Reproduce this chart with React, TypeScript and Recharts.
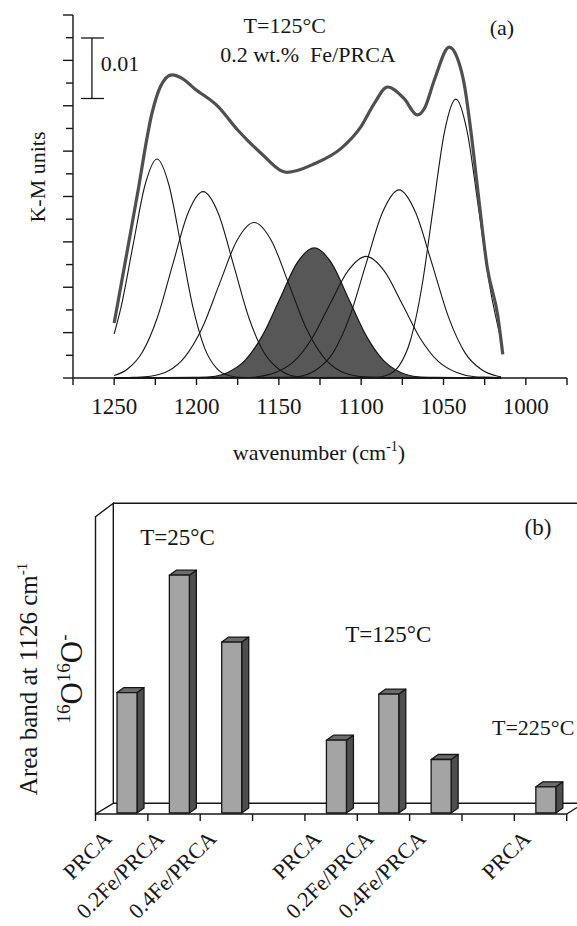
import React from 'react';
import { ComposedChart, Line, Area, XAxis, YAxis, ReferenceLine, BarChart, Bar } from 'recharts';

const FONT = '"Liberation Serif", "Times New Roman", serif';
const INK = '#161616';

// (a) experimental / fitted envelope, K-M units against wavenumber (cm-1)
const envelope = [
  { w: 1250, v: 0.0091 }, { w: 1242, v: 0.0211 }, { w: 1236, v: 0.0302 }, { w: 1227, v: 0.0438 },
  { w: 1222, v: 0.0481 }, { w: 1215, v: 0.0501 }, { w: 1207.5, v: 0.0493 }, { w: 1201.5, v: 0.0479 },
  { w: 1187, v: 0.0449 }, { w: 1175, v: 0.041 }, { w: 1161, v: 0.0372 }, { w: 1145, v: 0.034 },
  { w: 1128.5, v: 0.0354 }, { w: 1112, v: 0.038 }, { w: 1100, v: 0.0416 }, { w: 1092, v: 0.0454 },
  { w: 1084, v: 0.0481 }, { w: 1074, v: 0.0462 }, { w: 1066, v: 0.0435 }, { w: 1061.5, v: 0.0446 },
  { w: 1055.5, v: 0.0493 }, { w: 1046.5, v: 0.0547 }, { w: 1041.5, v: 0.0528 }, { w: 1037.5, v: 0.0487 },
  { w: 1033, v: 0.04 }, { w: 1029, v: 0.0306 }, { w: 1023.5, v: 0.0184 }, { w: 1017, v: 0.0102 },
  { w: 1014, v: 0.0039 },
];

// fitted components
const band1224 = [
  { w: 1250, v: 0.0073 }, { w: 1245.75, v: 0.0118 }, { w: 1238.5, v: 0.022 }, { w: 1231.25, v: 0.0319 },
  { w: 1224, v: 0.0362 }, { w: 1216.75, v: 0.0319 }, { w: 1209.5, v: 0.022 }, { w: 1202.25, v: 0.0118 },
  { w: 1195, v: 0.0049 }, { w: 1187.75, v: 0.0016 }, { w: 1180.5, v: 0.0004 }, { w: 1173.25, v: 0.0001 },
  { w: 1160, v: 0 }, { w: 1015, v: 0 },
];
const band1196 = [
  { w: 1250, v: 0.0004 }, { w: 1242.25, v: 0.0014 }, { w: 1233, v: 0.0042 }, { w: 1223.75, v: 0.01 },
  { w: 1214.5, v: 0.0187 }, { w: 1205.25, v: 0.0272 }, { w: 1196, v: 0.0308 }, { w: 1186.75, v: 0.0272 },
  { w: 1177.5, v: 0.0187 }, { w: 1168.25, v: 0.01 }, { w: 1159, v: 0.0042 }, { w: 1149.75, v: 0.0014 },
  { w: 1140.5, v: 0.0003 }, { w: 1131.25, v: 0.0001 }, { w: 1120, v: 0 }, { w: 1015, v: 0 },
];
const band1165 = [
  { w: 1250, v: 0 }, { w: 1238.5, v: 0.0001 }, { w: 1228, v: 0.0003 }, { w: 1217.5, v: 0.0011 },
  { w: 1207, v: 0.0035 }, { w: 1196.5, v: 0.0083 }, { w: 1186, v: 0.0156 }, { w: 1175.5, v: 0.0227 },
  { w: 1165, v: 0.0257 }, { w: 1154.5, v: 0.0227 }, { w: 1144, v: 0.0156 }, { w: 1133.5, v: 0.0083 },
  { w: 1123, v: 0.0035 }, { w: 1112.5, v: 0.0011 }, { w: 1102, v: 0.0003 }, { w: 1091.5, v: 0.0001 },
  { w: 1080, v: 0 }, { w: 1015, v: 0 },
];
// the 1126 cm-1 superoxide band (shaded)
const band1128 = [
  { w: 1250, v: 0 }, { w: 1202, v: 0.0001 }, { w: 1191.5, v: 0.0002 }, { w: 1181, v: 0.0009 },
  { w: 1170.5, v: 0.0029 }, { w: 1160, v: 0.007 }, { w: 1149.5, v: 0.013 }, { w: 1139, v: 0.019 },
  { w: 1128.5, v: 0.0215 }, { w: 1118, v: 0.019 }, { w: 1107.5, v: 0.013 }, { w: 1097, v: 0.007 },
  { w: 1086.5, v: 0.0029 }, { w: 1076, v: 0.0009 }, { w: 1065.5, v: 0.0002 }, { w: 1055, v: 0.0001 },
  { w: 1015, v: 0 },
];
const band1097 = [
  { w: 1250, v: 0 }, { w: 1174, v: 0 }, { w: 1163, v: 0.0002 }, { w: 1152, v: 0.0009 },
  { w: 1141, v: 0.0027 }, { w: 1130, v: 0.0065 }, { w: 1119, v: 0.0122 }, { w: 1108, v: 0.0177 },
  { w: 1097, v: 0.0201 }, { w: 1086, v: 0.0177 }, { w: 1075, v: 0.0122 }, { w: 1064, v: 0.0065 },
  { w: 1053, v: 0.0027 }, { w: 1042, v: 0.0009 }, { w: 1031, v: 0.0002 }, { w: 1020, v: 0.0001 },
  { w: 1015, v: 0 },
];
const band1077 = [
  { w: 1250, v: 0 }, { w: 1147, v: 0.0001 }, { w: 1137, v: 0.0003 }, { w: 1127, v: 0.0014 },
  { w: 1117, v: 0.0042 }, { w: 1107, v: 0.0101 }, { w: 1097, v: 0.0189 }, { w: 1087, v: 0.0274 },
  { w: 1077, v: 0.0311 }, { w: 1067, v: 0.0274 }, { w: 1057, v: 0.0189 }, { w: 1047, v: 0.0101 },
  { w: 1037, v: 0.0042 }, { w: 1027, v: 0.0014 }, { w: 1017, v: 0.0003 }, { w: 1015, v: 0.0002 },
];
const band1043 = [
  { w: 1250, v: 0 }, { w: 1090.8, v: 0.0001 }, { w: 1083.9, v: 0.0005 }, { w: 1077, v: 0.002 },
  { w: 1070.1, v: 0.0062 }, { w: 1063.2, v: 0.015 }, { w: 1056.3, v: 0.028 }, { w: 1049.4, v: 0.0407 },
  { w: 1042.5, v: 0.0461 }, { w: 1035.6, v: 0.0407 }, { w: 1028.7, v: 0.028 }, { w: 1021.8, v: 0.015 },
  { w: 1015, v: 0.0062 },
];

const wavenumberTicks = [1275, 1250, 1225, 1200, 1175, 1150, 1125, 1100, 1075, 1050, 1025, 1000, 975];
const kmTicks = [
  0, 0.00375, 0.0075, 0.01125, 0.015, 0.01875, 0.0225, 0.02625, 0.03,
  0.03375, 0.0375, 0.04125, 0.045, 0.04875, 0.0525, 0.05625, 0.06,
];

// (b) area of the 1126 cm-1 band, arbitrary units
const samples = ['PRCA', '0.2Fe/PRCA', '0.4Fe/PRCA', '', 'PRCA', '0.2Fe/PRCA', '0.4Fe/PRCA', '', 'PRCA'];
const bandArea = [4.05, 8.0, 5.75, null, 2.45, 4.0, 1.8, null, 0.88];
// slot boundaries on the front edge of the floor
const slotEdges = [0, 1, 2, 3, 4, 5, 6, 7, 8, 9];

const barData = samples.map((s, i) => ({ sample: s, slot: i + 0.5, area: bandArea[i] }));

function KmTick({ x, y, index }: any) {
  const len = index % 2 === 0 ? 10 : 7;
  return <line x1={x - len} x2={x} y1={y} y2={y} stroke={INK} strokeWidth={1.4} />;
}

// ticks sit on slot boundaries; each one carries the label of the slot to its left
function SampleTick({ x, y, payload }: any) {
  const name = payload.value > 0 ? samples[payload.value - 1] : '';
  if (!name) return null;
  const ax = x - 35;
  const ay = y + 19;
  return (
    <text x={ax} y={ay} transform={`rotate(-45, ${ax}, ${ay})`} textAnchor="end"
      fontFamily={FONT} fontSize={22} fill={INK}>
      {name}
    </text>
  );
}

const DX = 7;
const DY = 5;
const SHIFT = 5.5;

function Bar3D(props: any) {
  const { x, y, width, height } = props;
  if (height == null || height <= 0) return null;
  const fx = x + SHIFT;
  const yb = y - 1;
  const top = `${fx},${yb} ${fx + DX},${yb - DY} ${fx + width + DX},${yb - DY} ${fx + width},${yb}`;
  const side = `${fx + width},${yb} ${fx + width + DX},${yb - DY} ${fx + width + DX},${yb + height - DY} ${fx + width},${yb + height}`;
  return (
    <g stroke={INK} strokeWidth={1.3} strokeLinejoin="round">
      <polygon points={side} fill="#4e4e4e" />
      <polygon points={top} fill="#6c6c6c" />
      <rect x={fx} y={yb} width={width} height={height} fill="#a4a4a4" />
    </g>
  );
}

const thin = { stroke: INK, strokeWidth: 1.1, dot: false, isAnimationActive: false, type: 'monotone' as const };

export default function App() {
  const txt = { fontFamily: FONT, fill: INK };
  return (
    <div style={{ position: 'absolute', left: 0, top: 0, width: 577, height: 926, background: '#fff', overflow: 'hidden' }}>
      {/* 3D frame of panel (b) */}
      <svg width={577} height={926} style={{ position: 'absolute', left: 0, top: 0 }}>
        <g stroke={INK} strokeWidth={1.4} fill="none">
          <polygon points="95.5,516.7 113.3,503.3 113.3,803.3 95.5,814" fill="#fff" />
          <line x1={113.3} y1={503.3} x2={577} y2={503.3} />
          <line x1={113.3} y1={803.3} x2={577} y2={803.3} />
          <line x1={566.7} y1={814} x2={577} y2={807.5} />
        </g>
      </svg>

      <div style={{ position: 'absolute', left: 0, top: 0 }}>
        <ComposedChart width={577} height={470} margin={{ top: 15, right: 10, bottom: 62, left: 72 }}>
          <XAxis type="number" dataKey="w" domain={[975, 1275]} reversed allowDataOverflow
            ticks={wavenumberTicks} interval={0} height={30}
            tickFormatter={(v: number) => (v % 50 === 0 && v >= 1000 && v <= 1250 ? String(v) : '')}
            tick={{ fontFamily: FONT, fontSize: 23, fill: INK }}
            tickSize={7} tickMargin={13}
            axisLine={{ stroke: INK, strokeWidth: 1.4 }} tickLine={{ stroke: INK, strokeWidth: 1.4 }} />
          <YAxis type="number" domain={[0, 0.06]} ticks={kmTicks} interval={0} width={1}
            tick={<KmTick />} tickLine={false} tickSize={0} tickMargin={0}
            axisLine={{ stroke: INK, strokeWidth: 1.4 }} />
          <Line data={band1224} dataKey="v" {...thin} />
          <Line data={band1196} dataKey="v" {...thin} />
          <Line data={band1165} dataKey="v" {...thin} />
          <Area data={band1128} dataKey="v" type="monotone" fill="#575757" fillOpacity={1}
            stroke={INK} strokeWidth={1.2} isAnimationActive={false} />
          <Line data={band1097} dataKey="v" {...thin} />
          <Line data={band1077} dataKey="v" {...thin} />
          <Line data={band1043} dataKey="v" {...thin} />
          <Line data={envelope} dataKey="v" type="monotone" stroke="#4f4f4f" strokeWidth={3.2}
            dot={false} isAnimationActive={false} />
          {/* 0.01 K-M scale bar */}
          <ReferenceLine segment={[{ x: 1263.5, y: 0.0462 }, { x: 1263.5, y: 0.0562 }]} stroke={INK} strokeWidth={1.3} />
          <ReferenceLine segment={[{ x: 1270.1, y: 0.0562 }, { x: 1256.2, y: 0.0562 }]} stroke={INK} strokeWidth={1.3} />
          <ReferenceLine segment={[{ x: 1270.1, y: 0.0462 }, { x: 1256.2, y: 0.0462 }]} stroke={INK} strokeWidth={1.3} />
        </ComposedChart>
      </div>

      <div style={{ position: 'absolute', left: 0, top: 470 }}>
        <BarChart width={577} height={456} data={barData} barSize={20}
          margin={{ top: 46.7, right: 10.3, bottom: 82, left: 95.5 }}>
          <XAxis type="number" dataKey="slot" domain={[0, 9]} ticks={slotEdges} interval={0}
            height={30} tickSize={7} tickMargin={0} tick={<SampleTick />}
            axisLine={{ stroke: INK, strokeWidth: 1.4 }} tickLine={{ stroke: INK, strokeWidth: 1.4 }} />
          <YAxis hide domain={[0, 10]} />
          <Bar dataKey="area" shape={<Bar3D />} isAnimationActive={false} />
        </BarChart>
      </div>

      {/* annotations */}
      <svg width={577} height={926} style={{ position: 'absolute', left: 0, top: 0, pointerEvents: 'none' }}>
        <g {...txt} fontSize={22}>
          <text x={284.7} y={33} textAnchor="middle">T=125°C</text>
          <text x={308} y={62} textAnchor="middle" style={{ whiteSpace: 'pre' }}>0.2 wt.%  Fe/PRCA</text>
          <text x={502} y={35} textAnchor="middle">(a)</text>
          <text x={100.7} y={71}>0.01</text>
          <text transform="translate(45,177) rotate(-90)" textAnchor="middle">K-M units</text>
          <text x={319} y={460} textAnchor="middle">
            wavenumber (cm<tspan dy={-9} fontSize={14}>-1</tspan><tspan dy={9}>)</tspan>
          </text>
        </g>
        <g {...txt} fontSize={23}>
          <text x={177.5} y={545} textAnchor="middle">T=25°C</text>
          <text x={388.3} y={641.7} textAnchor="middle">T=125°C</text>
          <text x={492} y={735} fontSize={22}>T=225°C</text>
          <text x={538} y={535} textAnchor="middle">(b)</text>
        </g>
        <g {...txt}>
          <text transform="translate(37,679) rotate(-90)" textAnchor="middle" fontSize={25}>
            Area band at 1126 cm<tspan dy={-10} fontSize={15}>-1</tspan>
          </text>
          <text transform="translate(81.5,679) rotate(-90)" textAnchor="middle" fontSize={31}>
            <tspan fontSize={19} dy={-12}>16</tspan><tspan dy={12}>O</tspan>
            <tspan fontSize={19} dy={-12}>16</tspan><tspan dy={12}>O</tspan>
            <tspan fontSize={19} dy={-12}>-</tspan>
          </text>
        </g>
      </svg>
    </div>
  );
}
